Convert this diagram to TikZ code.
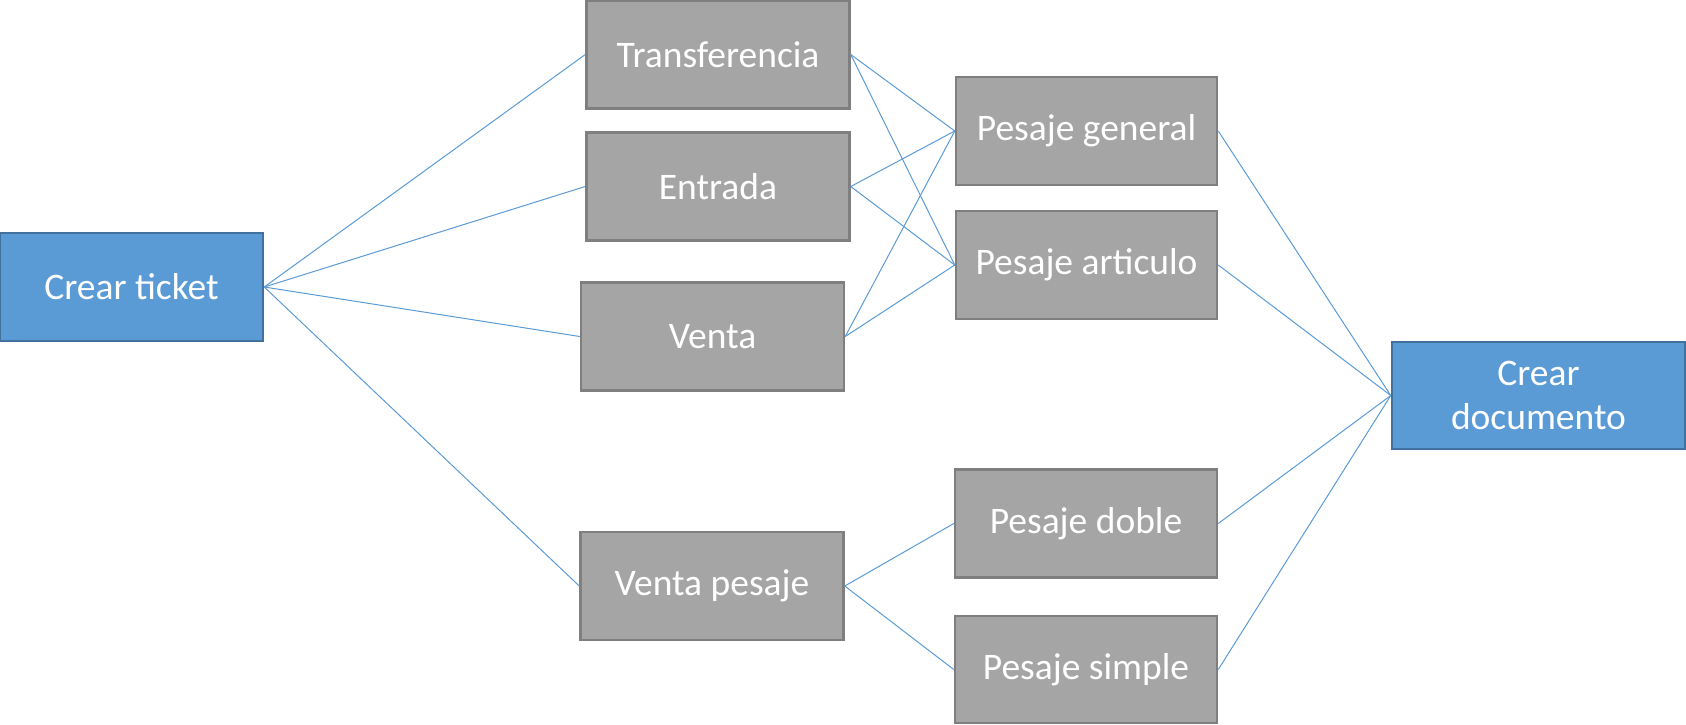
\documentclass[tikz,border=0pt]{standalone}
\usepackage{fontspec}
\setmainfont{Carlito}
\definecolor{boxgray}{HTML}{A5A5A5}
\definecolor{boxgrayline}{HTML}{7F7F7F}
\definecolor{boxblue}{HTML}{5B9BD5}
\definecolor{boxblueline}{HTML}{41719C}
\definecolor{linkblue}{HTML}{5B9BD5}
\begin{document}
\begin{tikzpicture}[x=1pt,y=-1pt,
  graybox/.style={rectangle, fill=boxgray, draw=boxgrayline, line width=2.5pt,
    minimum width=263pt, minimum height=108pt, inner sep=0pt, text=white,
    font=\fontsize{37.5}{44}\selectfont, align=center},
  bluebox/.style={graybox, fill=boxblue, draw=boxblueline},
  link/.style={draw=linkblue, line width=1pt}]
\useasboundingbox (0,0) rectangle (1686,724);
\node[bluebox] (ticket) at (131.5,287) {Crear ticket};
\node[graybox] (transf) at (718,54.5) {Transferencia};
\node[graybox] (entrada) at (718,186.5) {Entrada};
\node[graybox] (venta) at (712.5,336.5) {Venta};
\node[graybox] (ventap) at (712,586) {Venta pesaje};
\node[graybox, minimum width=261pt] (pgen) at (1086.5,131) {Pesaje general};
\node[graybox, minimum width=261pt] (part) at (1086.5,265) {Pesaje articulo};
\node[graybox, minimum width=262pt] (pdob) at (1086,523.5) {Pesaje doble};
\node[graybox, minimum width=262pt, minimum height=107pt] (psim) at (1086,669.5) {Pesaje simple};
\node[bluebox, minimum width=293pt, minimum height=107pt] (doc) at (1538.5,395.5) {Crear\\documento};
\foreach \t in {transf,entrada,venta,ventap} \draw[link] (ticket.east) -- (\t.west);
\foreach \s in {transf,entrada,venta} {
  \draw[link] (\s.east) -- (pgen.west);
  \draw[link] (\s.east) -- (part.west);
}
\draw[link] (ventap.east) -- (pdob.west);
\draw[link] (ventap.east) -- (psim.west);
\foreach \s in {pgen,part,pdob,psim} \draw[link] (\s.east) -- (doc.west);
\end{tikzpicture}
\end{document}
